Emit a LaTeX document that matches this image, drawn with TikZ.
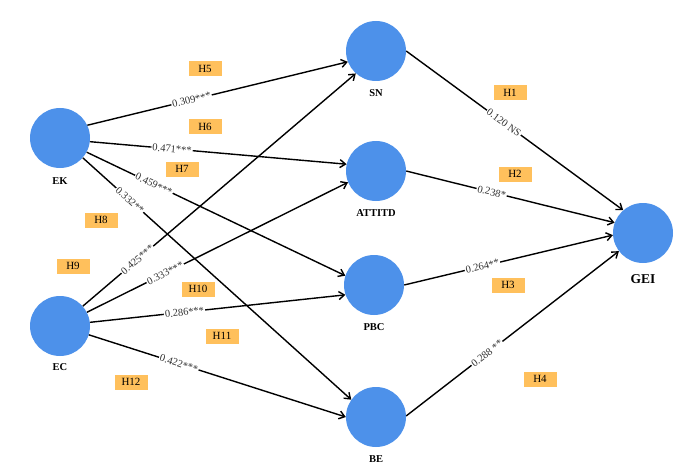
\documentclass[tikz,border=0pt]{standalone}
\usepackage{fontspec}
\setmainfont{Liberation Serif}
\usetikzlibrary{arrows.meta}
\definecolor{cblue}{RGB}{77,145,234}
\definecolor{horange}{RGB}{255,192,92}
\definecolor{lgrey}{RGB}{50,50,50}
\tikzset{
  latent/.style={circle, fill=cblue, minimum size=60pt, inner sep=0pt},
  vlabel/.style={font=\fontsize{10.5}{12}\selectfont\bfseries},
  hbox/.style={fill=horange, minimum width=33pt, minimum height=15pt, inner sep=0pt, font=\fontsize{11}{12}\selectfont},
  path/.style={draw=black, line width=1.4pt, -{Straight Barb[length=5.5pt,width=8pt]}},
  coef/.style={sloped, fill=white, inner sep=1pt, text=lgrey, font=\fontsize{10.5}{11}\selectfont}
}
\begin{document}
\begin{tikzpicture}[x=1pt,y=-1pt]
\useasboundingbox (0,0) rectangle (696,468);
% latent nodes
\node[latent] (EK) at (60,138) {};
\node[latent] (EC) at (60,326) {};
\node[latent] (SN) at (376,51) {};
\node[latent] (AT) at (376,171) {};
\node[latent] (PBC) at (374,285) {};
\node[latent] (BE) at (376,417) {};
\node[latent] (GEI) at (643,233) {};
% names
\node[vlabel] (lEK) at (60,181) {EK};
\node[vlabel] (lEC) at (60,367) {EC};
\node[vlabel] (lSN) at (376,93) {SN};
\node[vlabel] (lAT) at (376,213) {ATTITD};
\node[vlabel] (lPBC) at (374,327) {PBC};
\node[vlabel] (lBE) at (376,459) {BE};
\node[vlabel, font=\fontsize{13.5}{15}\selectfont\bfseries] (lGEI) at (643,279) {GEI};
% hypothesis boxes
\node[hbox] (H1) at (510,93) {H1};
\node[hbox] (H2) at (515,174) {H2};
\node[hbox] (H3) at (508,285) {H3};
\node[hbox] (H4) at (540,379) {H4};
\node[hbox] (H5) at (205,69) {H5};
\node[hbox] (H6) at (205,127) {H6};
\node[hbox] (H7) at (182,169) {H7};
\node[hbox] (H8) at (101,220) {H8};
\node[hbox] (H9) at (73,266) {H9};
\node[hbox] (H10) at (198,289) {H10};
\node[hbox] (H11) at (222,336) {H11};
\node[hbox] (H12) at (131,382) {H12};
% paths
\draw[path] (EK.25) -- node[coef, pos=0.40] {0.309***} (SN.201);
\draw[path] (EK.-7) -- node[coef, pos=0.32] {0.471***} (AT.167);
\draw[path] (EK.-28) -- node[coef, pos=0.26] {0.459***} (PBC.162);
\draw[path] (EK.-41) -- node[coef, pos=0.175] {0.332**} (BE.145);
\draw[path] (EC.41) -- node[coef, pos=0.20] {0.425***} (SN.228);
\draw[path] (EC.27) -- node[coef, pos=0.30] {0.333***} (AT.202);
\draw[path] (EC.7) -- node[coef, pos=0.37] {0.286***} (PBC.199);
\draw[path] (EC.-17) -- node[coef, pos=0.35] {0.422***} (BE.180);
\draw[path] (SN.0) -- node[coef, pos=0.45] {0.120 NS} (GEI.131);
\draw[path] (AT.0) -- node[coef, pos=0.41] {0.238*} (GEI.160);
\draw[path] (PBC.0) -- node[coef, pos=0.375] {0.264**} (GEI.184);
\draw[path] (BE.2) -- node[coef, pos=0.38] {0.288 **} (GEI.217);
\end{tikzpicture}
\end{document}
